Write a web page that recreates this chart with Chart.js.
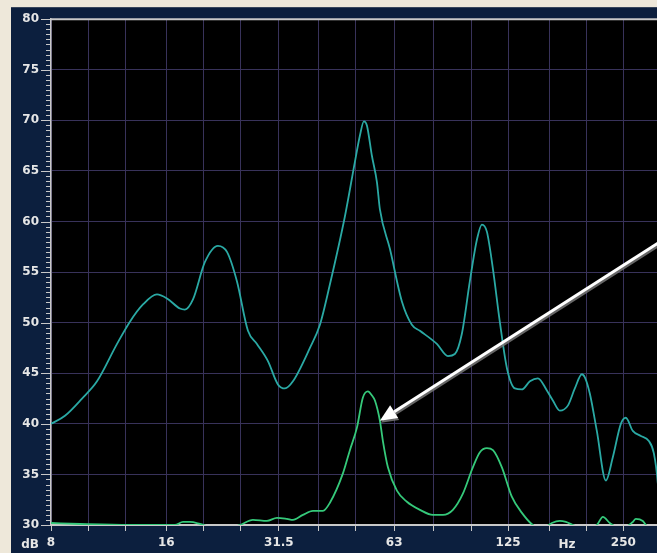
<!DOCTYPE html>
<html><head><meta charset="utf-8">
<script src="https://cdn.jsdelivr.net/npm/chart.js@4/dist/chart.umd.min.js"></script>
<style>html,body{margin:0;padding:0;background:#eee8da;overflow:hidden}canvas{display:block}</style>
</head><body>
<canvas id="c" width="657" height="553"></canvas>
<script>
// ---- data ----
const cyanFreq = [8.0, 8.7, 9.64, 10.55, 11.9, 12.86, 13.91, 15.13, 16.07, 17.37, 17.9, 18.79, 20.19, 21.83, 23.05, 24.47, 26.15, 27.6, 29.49, 31.31, 32.67, 34.27, 37.96, 40.31, 42.81, 46.84, 49.75, 51.27, 52.51, 53.47, 55.1, 56.79, 57.82, 61.4, 65.99, 70.06, 73.54, 81.44, 87.03, 90.74, 94.65, 99.31, 103.6, 106.8, 110.0, 114.1, 118.9, 124.1, 130.2, 135.8, 142.5, 149.5, 157.8, 163.6, 170.6, 179.0, 186.7, 194.8, 198.3, 204.3, 213.1, 225.0, 234.6, 246.2, 253.7, 264.6, 277.7, 291.4, 300.2, 307.5, 312];
const cyanDb = [40.0, 40.8, 42.5, 44.2, 47.9, 50.1, 51.8, 52.8, 52.4, 51.4, 51.3, 52.3, 56.0, 57.6, 57.0, 54.1, 49.2, 47.9, 46.2, 43.9, 43.5, 44.2, 47.5, 49.8, 53.8, 60.5, 65.9, 68.5, 69.9, 69.5, 66.5, 63.9, 61.2, 57.3, 52.1, 49.8, 49.2, 47.9, 46.7, 46.9, 48.9, 54.1, 58.2, 59.7, 59.0, 55.3, 50.1, 45.5, 43.5, 43.4, 44.2, 44.5, 43.3, 42.3, 41.3, 41.8, 43.5, 44.9, 44.6, 43.0, 39.3, 34.4, 36.7, 40.0, 40.6, 39.3, 38.8, 38.3, 37.1, 34.1, 30.0];
const greenFreq = [8.0, 9.52, 12.86, 16.86, 17.69, 18.45, 19.59, 20.81, 22.77, 24.92, 26.94, 29.31, 31.13, 33.06, 34.27, 36.39, 38.65, 41.05, 42.81, 46.29, 48.27, 50.34, 52.2, 53.79, 55.1, 56.11, 57.82, 58.87, 60.67, 64.04, 68.01, 73.54, 79.51, 84.45, 89.68, 95.23, 101.1, 105.5, 110.0, 114.1, 120.4, 127.8, 135.8, 145.0, 153.1, 162.6, 170.6, 176.9, 184.5, 198.3, 213.1, 221.0, 230.4, 246.2, 264.6, 269.4, 281.0, 289.5, 307.5];
const greenDb = [30.2, 30.1, 30.0, 30.0, 30.3, 30.3, 30.1, 29.8, 29.6, 30.0, 30.5, 30.4, 30.7, 30.6, 30.5, 31.0, 31.4, 31.4, 32.2, 35.1, 37.4, 39.6, 42.6, 43.2, 42.8, 42.3, 40.3, 38.3, 35.7, 33.4, 32.3, 31.5, 31.0, 31.0, 31.5, 33.1, 35.7, 37.2, 37.6, 37.4, 35.7, 32.8, 31.2, 30.0, 29.6, 30.2, 30.4, 30.3, 30.0, 29.6, 30.0, 30.8, 30.2, 29.6, 30.3, 30.6, 30.4, 29.8, 29.6];
const thirdOctaveTicks = [8, 10, 12.5, 16, 20, 25, 31.5, 40, 50, 63, 80, 100, 125, 160, 200, 250, 315];
const labeledTicks = [8, 16, 31.5, 63, 125, 250];
const xUnitLabel = 'Hz', xUnitAt = 178;
const yUnitLabel = 'dB';
const yMin = 30, yMax = 80, yMinorStep = 0.5, yMajorStep = 5;
const xMin = 8, xMax = 306;
const arrowFrom = {f: 330, db: 58.6};
const arrowTo = {f: 57.8, db: 40.3};

// ---- styles ----
const FONT = {family: "'DejaVu Sans', Verdana, sans-serif", size: 12, weight: 'bold'};
const TEXT = '#e6e6e6';
const GRID = '#38325a';
const AXIS = '#c8c8c8';

const pts = (xs, ys) => xs.map((x, i) => ({x, y: ys[i]}));

const framePlugin = {
  id: 'frame',
  beforeDraw(chart) {
    const {ctx, chartArea: a, width, height} = chart;
    ctx.save();
    ctx.fillStyle = '#eee8da';
    ctx.fillRect(0, 0, width, height);
    ctx.fillStyle = '#0c1f3e';
    ctx.fillRect(a.left - 40, a.top - 12, width, height);
    ctx.fillStyle = '#000';
    ctx.fillRect(a.left, a.top, a.right - a.left, a.bottom - a.top);
    ctx.restore();
  },
  afterDraw(chart) {
    const {ctx, chartArea: a, scales} = chart;
    const xs = scales.x, ys = scales.y;
    ctx.save();
    // top border
    ctx.strokeStyle = AXIS;
    ctx.lineWidth = 2;
    ctx.beginPath(); ctx.moveTo(a.left, a.top); ctx.lineTo(a.right, a.top); ctx.stroke();
    // y tick marks (major / minor)
    ctx.lineWidth = 1;
    ys.ticks.forEach(t => {
      const y = Math.round(ys.getPixelForValue(t.value)) + 0.5;
      const major = Math.abs(t.value % yMajorStep) < 1e-6;
      const len = major ? 10 : 5;
      ctx.beginPath(); ctx.moveTo(a.left - len, y); ctx.lineTo(a.left, y); ctx.stroke();
    });
    // unit labels
    ctx.fillStyle = TEXT;
    ctx.font = `bold ${FONT.size}px ${FONT.family}`;
    ctx.textBaseline = 'middle';
    const ly = a.bottom + 19.5;
    ctx.textAlign = 'right';
    ctx.fillText(yUnitLabel, a.left - 12, ly);
    ctx.textAlign = 'center';
    ctx.fillText(xUnitLabel, xs.getPixelForValue(xUnitAt), ly);
    // arrow annotation
    const x1 = xs.getPixelForValue(arrowFrom.f), y1 = ys.getPixelForValue(arrowFrom.db);
    const x2 = xs.getPixelForValue(arrowTo.f), y2 = ys.getPixelForValue(arrowTo.db);
    const ang = Math.atan2(y2 - y1, x2 - x1);
    const headLen = 17, headW = 7.5;
    const bx = x2 - headLen * Math.cos(ang), by = y2 - headLen * Math.sin(ang);
    const draw = (dx, dy, col) => {
      ctx.strokeStyle = col; ctx.fillStyle = col; ctx.lineWidth = 3;
      ctx.beginPath(); ctx.moveTo(x1 + dx, y1 + dy); ctx.lineTo(bx + dx, by + dy); ctx.stroke();
      ctx.beginPath();
      ctx.moveTo(x2 + dx, y2 + dy);
      ctx.lineTo(bx + dx + headW * Math.sin(ang), by + dy - headW * Math.cos(ang));
      ctx.lineTo(bx + dx - headW * Math.sin(ang), by + dy + headW * Math.cos(ang));
      ctx.closePath(); ctx.fill();
    };
    draw(1, 2, 'rgba(120,120,120,0.85)');
    draw(0, 0, '#ffffff');
    ctx.restore();
  }
};

new Chart(document.getElementById('c'), {
  type: 'line',
  data: {
    datasets: [
      {data: pts(cyanFreq, cyanDb), borderColor: '#2aa9a4', borderWidth: 1.8, pointRadius: 0, fill: false, cubicInterpolationMode: 'monotone'},
      {data: pts(greenFreq, greenDb), borderColor: '#35c97a', borderWidth: 1.8, pointRadius: 0, fill: false, cubicInterpolationMode: 'monotone'}
    ]
  },
  options: {
    responsive: false,
    animation: false,
    events: [],
    layout: {padding: {left: 11, top: 16, right: 0, bottom: 0}},
    plugins: {legend: {display: false}, tooltip: {enabled: false}, title: {display: false}},
    scales: {
      x: {
        type: 'logarithmic', min: xMin, max: xMax,
        afterBuildTicks: s => { s.ticks = thirdOctaveTicks.filter(v => v >= xMin && v <= xMax).map(v => ({value: v})); },
        afterFit: s => { s.height = 28; },
        ticks: {
          autoSkip: false, maxRotation: 0, minRotation: 0, padding: 5,
          color: TEXT, font: FONT,
          callback: v => labeledTicks.includes(v) ? String(v) : ''
        },
        grid: {color: GRID, lineWidth: 1, drawTicks: true, tickLength: 6, tickColor: AXIS, tickWidth: 1},
        border: {display: true, color: AXIS, width: 2}
      },
      y: {
        type: 'linear', min: yMin, max: yMax,
        afterBuildTicks: s => {
          const t = [];
          for (let v = yMin; v <= yMax + 1e-9; v += yMinorStep) t.push({value: Math.round(v * 10) / 10});
          s.ticks = t;
        },
        afterFit: s => { s.width = 40; },
        ticks: {
          autoSkip: false, padding: 12, color: TEXT, font: FONT,
          callback: v => (Math.abs(v % yMajorStep) < 1e-6 ? String(v) : '')
        },
        grid: {
          drawTicks: false, lineWidth: 1,
          color: c => (c.tick && Math.abs(c.tick.value % yMajorStep) < 1e-6) ? GRID : 'rgba(0,0,0,0)'
        },
        border: {display: true, color: AXIS, width: 1.5}
      }
    }
  },
  plugins: [framePlugin]
});
</script>
</body></html>
